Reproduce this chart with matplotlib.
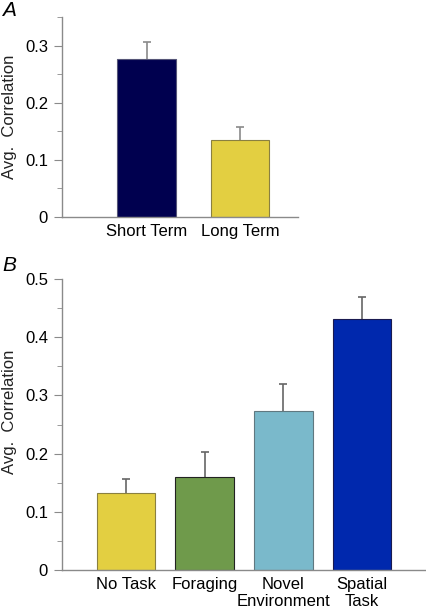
import matplotlib
matplotlib.use("Agg")
import matplotlib.pyplot as plt
from matplotlib.ticker import MultipleLocator

plt.rcParams['font.family'] = ['Liberation Sans', 'DejaVu Sans']

# panel A data
etiquetas_a = ['Short Term', 'Long Term']
valores_a = [0.277, 0.134]
errores_a = [0.029, 0.023]
colores_a = ['#00004F', '#E3CF41']

# panel B data
etiquetas_b = ['No Task', 'Foraging', 'Novel\nEnvironment', 'Spatial\nTask']
valores_b = [0.133, 0.159, 0.273, 0.432]
errores_b = [0.023, 0.044, 0.046, 0.037]
colores_b = ['#E3CF41', '#6F9A4B', '#7AB9CB', '#0028AD']

gris = '#8a8a8a'


def estilo_ejes(ax, top, mayor, xlab, ylab):
    ax.set_ylim(0, top)
    ax.yaxis.set_major_locator(MultipleLocator(mayor))
    ax.yaxis.set_minor_locator(MultipleLocator(mayor / 2))
    ax.yaxis.set_major_formatter(plt.FuncFormatter(lambda v, p: '0' if v == 0 else '%.1f' % v))
    for s in ['top', 'right']:
        ax.spines[s].set_visible(False)
    for s in ['left', 'bottom']:
        ax.spines[s].set_color(gris)
        ax.spines[s].set_linewidth(1.0)
    ax.tick_params(axis='y', which='major', length=6, color=gris, labelsize=12, pad=4)
    ax.tick_params(axis='y', which='minor', length=3.5, color=gris)
    ax.tick_params(axis='x', length=0, labelsize=12, pad=5)
    ax.set_ylabel('Avg.  Correlation', fontsize=12, color='#222222')
    ax.yaxis.set_label_coords(xlab, ylab)


def barras(ax, pos, vals, errs, cols, bordes, ancho, ecol):
    ax.bar(pos, vals, width=ancho, color=cols, edgecolor=bordes, linewidth=0.8, zorder=2)
    eb = ax.errorbar(pos, vals, yerr=[[0] * len(errs), errs], fmt='none', ecolor=ecol,
                     elinewidth=1.2, capsize=2.8, capthick=1.2, zorder=1)
    # solo la barra superior, sin tapa abajo
    eb[1][0].set_visible(False)


fig = plt.figure(figsize=(4.26, 6.14), dpi=100)

# Panel A
axA = fig.add_axes([62 / 426, 1 - 217 / 614, 236 / 426, 200 / 614])
posA = list(range(len(valores_a)))
barras(axA, posA, valores_a, errores_a, colores_a, ['#555577', '#8a8040'], 0.63, gris)
axA.set_xlim(-0.904, 1.62)
axA.set_xticks(posA)
axA.set_xticklabels(etiquetas_a)
estilo_ejes(axA, 0.35, 0.1, -45 / 236, 0.5)
fig.text(0.005, 0.998, 'A', fontsize=15, style='italic', va='top', ha='left')

# Panel B
axB = fig.add_axes([62 / 426, 1 - 570 / 614, 364 / 426, 291 / 614])
posB = list(range(len(valores_b)))
barras(axB, posB, valores_b, errores_b, colores_b, ['#8a8040', '#222222', '#607880', '#1a1a50'], 0.74, '#666666')
axB.set_xlim(-0.81, 3.81)
axB.set_xticks(posB)
axB.set_xticklabels(etiquetas_b, linespacing=1.15)
estilo_ejes(axB, 0.5, 0.1, -45 / 364, 0.543)
fig.text(0.005, 1 - 256 / 614, 'B', fontsize=15, style='italic', va='top', ha='left')

plt.savefig('out.png', dpi=100)
